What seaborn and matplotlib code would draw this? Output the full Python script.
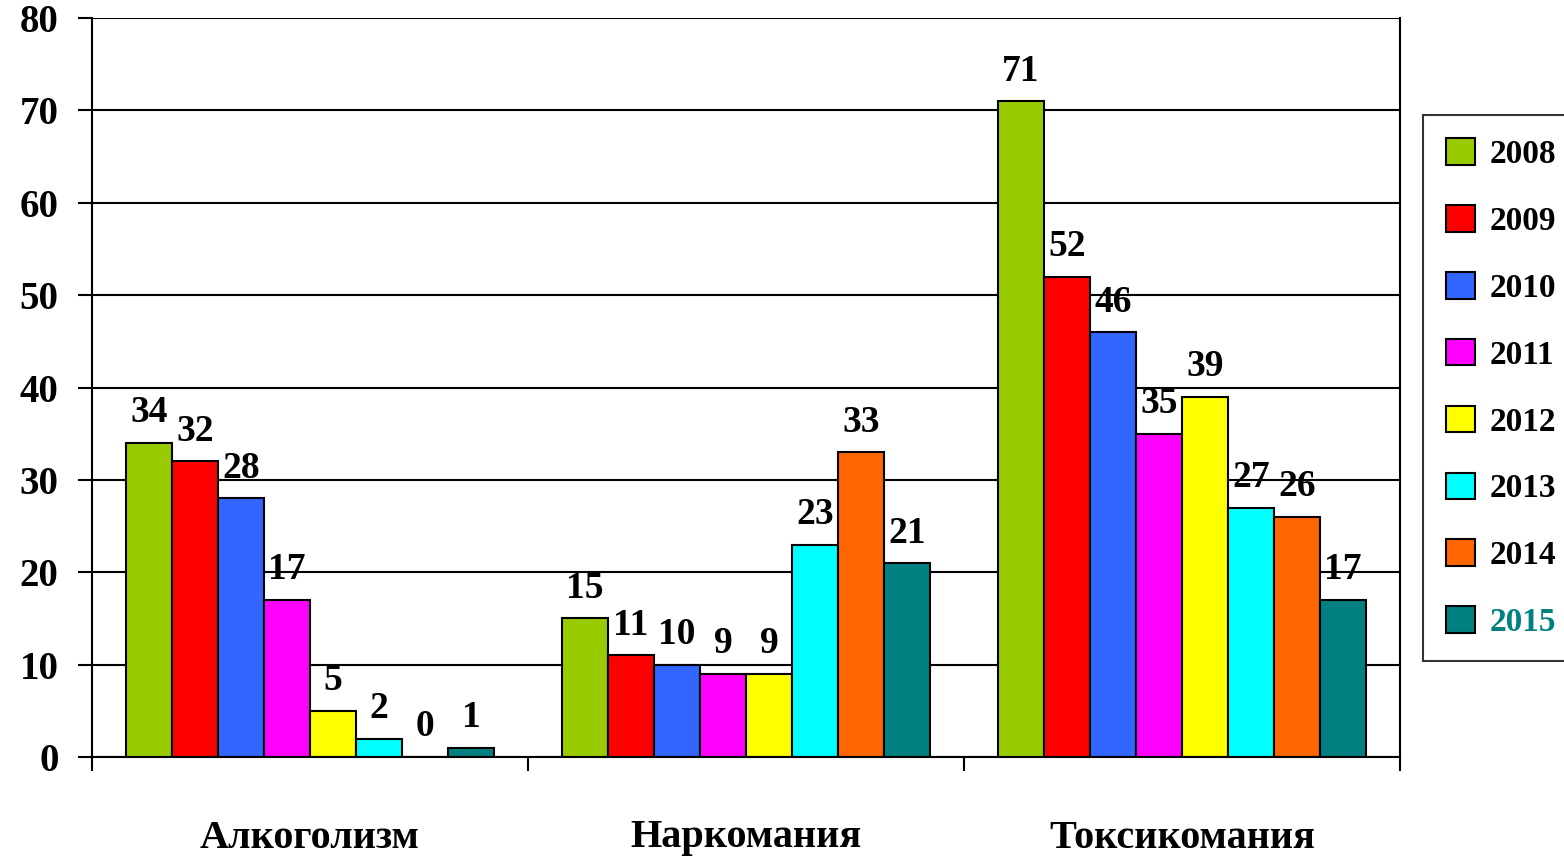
import pandas as pd
import matplotlib.pyplot as plt
import seaborn as sns

# values
categories = ['Алкоголизм', 'Наркомания', 'Токсикомания']
years = ['2008', '2009', '2010', '2011', '2012', '2013', '2014', '2015']
alko = [34, 32, 28, 17, 5, 2, 0, 1]
narko = [15, 11, 10, 9, 9, 23, 33, 21]
toksi = [71, 52, 46, 35, 39, 27, 26, 17]
colors = ['#99CC00', '#FF0000', '#3366FF', '#FF00FF', '#FFFF00', '#00FFFF', '#FF6600', '#008080']

rows = []
for cat, vals in zip(categories, [alko, narko, toksi]):
    for yr, v in zip(years, vals):
        rows.append({'cat': cat, 'year': yr, 'val': v})
df = pd.DataFrame(rows)

sns.set_style('white')
plt.rcParams['font.family'] = ['Liberation Serif', 'DejaVu Serif']
plt.rcParams['font.weight'] = 'bold'
for k in ['text.color', 'axes.labelcolor', 'xtick.color', 'ytick.color']:
    plt.rcParams[k] = 'black'

fig = plt.figure(figsize=(15.64, 8.58), dpi=100)
ax = fig.add_axes([92 / 1564, 1 - 757 / 858, (1400 - 92) / 1564, (757 - 18) / 858])

sns.barplot(data=df, x='cat', y='val', hue='year', palette=colors, ax=ax,
            edgecolor='black', linewidth=1.5, width=0.845, gap=0, saturation=1,
            legend=True)

for c in ax.containers:
    ax.bar_label(c, fontsize=27, fontweight='bold', padding=9, color='black')

ax.set_ylim(0, 80)
ax.set_xlim(-0.5, 2.5)
ax.set_yticks(range(0, 81, 10))
ax.yaxis.grid(True, color='black', linewidth=1.5)
ax.set_axisbelow(True)
ax.set_xlabel('')
ax.set_ylabel('')
ax.spines['top'].set_visible(False)
for s in ['left', 'bottom', 'right']:
    ax.spines[s].set_color('black')
    ax.spines[s].set_linewidth(1.5)

ax.tick_params(axis='y', length=10, width=1.5, color='black', pad=14, labelsize=28, left=True)
ax.tick_params(axis='x', which='major', length=0, pad=45, labelsize=29)
ax.set_xticks([-0.5, 0.5, 1.5, 2.5], minor=True)
ax.tick_params(axis='x', which='minor', length=10, width=1.5, color='black', bottom=True)
for lab in ax.get_xticklabels() + ax.get_yticklabels():
    lab.set_fontweight('bold')

handles, labels = ax.get_legend_handles_labels()
leg = ax.legend(handles, labels, loc='upper left', bbox_to_anchor=(1423 / 1564, 1 - 115 / 858),
                bbox_transform=fig.transFigure, borderaxespad=0, frameon=True, fancybox=False,
                edgecolor='black', handlelength=0.85, handleheight=0.85, labelspacing=1.05,
                handletextpad=0.45, borderpad=0.7, prop={'weight': 'bold', 'size': 24})
leg.get_frame().set_linewidth(1.5)
leg.get_texts()[-1].set_color('#008080')

plt.savefig('out.png', dpi=100)
